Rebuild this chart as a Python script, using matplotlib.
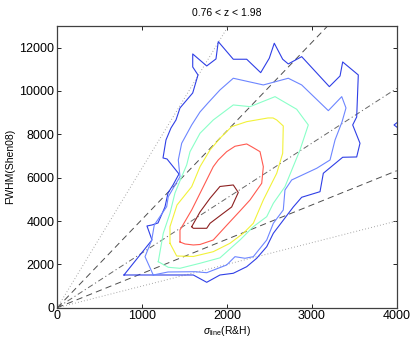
import numpy as np
import matplotlib
matplotlib.use("Agg")
import matplotlib.pyplot as plt

plt.rcParams['font.family'] = ['Liberation Sans', 'DejaVu Sans']
plt.rcParams['mathtext.fontset'] = 'custom'
plt.rcParams['mathtext.rm'] = 'Liberation Sans'
plt.rcParams['mathtext.it'] = 'Liberation Sans:italic'
plt.rcParams['lines.scale_dashes'] = False

title = "0.76 < z < 1.98"

# contour levels (outermost first)
lvl1_x = [786, 1116, 1057, 1116, 1187, 1269, 1305, 1364, 1434, 1293, 1246, 1281, 1340, 1399,
          1446, 1596, 1658, 1596, 1596, 1761, 1870, 1897, 2074, 2232, 2397, 2498, 2557, 2656,
          2722, 2880, 3206, 3332, 3363, 3547, 3538, 3528, 3481, 3567, 3528, 3363, 3135, 3096,
          2880, 2781, 2546, 2468, 2350, 2232, 2074, 1917, 1761, 1603]
lvl1_y = [1509, 3124, 3770, 3817, 3909, 4647, 5293, 5663, 6170, 6862, 6909, 7739, 8293, 8662,
          9216, 9908, 10739, 11108, 11708, 11154, 11478, 12276, 11464, 11464, 10845, 11510, 12202, 11464,
          11247, 11584, 10199, 10693, 11339, 10739, 9816, 8801, 8432, 7587, 6955, 6941, 6203, 5353,
          5095, 4647, 3434, 2815, 2280, 1892, 1588, 1509, 1172, 1509]
# small piece of the outer level at the right edge
lvl1b_x = [4060, 3968, 4060]
lvl1b_y = [8710, 8432, 8155]

lvl2_x = [1131, 1034, 1113, 1143, 1289, 1308, 1446, 1426, 1466, 1584, 1682, 1776, 1917, 2074,
          2428, 2722, 2880, 3194, 3352, 3402, 3355, 3273, 3214, 3057, 2762, 2683, 2663, 2546,
          2468, 2310, 2212, 2094, 1996, 1761, 1623, 1305]
lvl2_y = [1509, 2354, 3124, 3817, 4661, 5123, 6046, 6816, 7587, 8432, 9032, 9447, 10047, 10587,
          10278, 10587, 10278, 9092, 9738, 9216, 8570, 7739, 6816, 6433, 5893, 5432, 4509, 3895,
          3124, 2354, 2280, 2354, 1971, 1615, 1661, 1648]

lvl3_x = [1190, 1249, 1328, 1387, 1466, 1525, 1564, 1682, 1838, 2074, 2271, 2566, 2821, 2899,
          2958, 2860, 2683, 2546, 2468, 2310, 2153, 1917, 1682, 1446, 1308]
lvl3_y = [2123, 3434, 4357, 5293, 6046, 6586, 7199, 8049, 8662, 9355, 9276, 9738, 9156, 8741,
          8432, 7278, 5584, 4818, 4200, 3738, 3124, 2300, 2050, 1818, 1864]

lvl4_x = [1328, 1328, 1411, 1584, 1682, 1800, 1917, 2055, 2232, 2483, 2542, 2586, 2663, 2656,
          2586, 2428, 2310, 2192, 2035, 1838, 1603, 1407]
lvl4_y = [2972, 3738, 4740, 5584, 6507, 7278, 7818, 8353, 8584, 8755, 8755, 8662, 8385, 7125,
          6203, 4970, 3895, 3434, 2972, 2584, 2363, 2386]

lvl5_x = [1446, 1446, 1584, 1721, 1838, 1897, 1996, 2094, 2232, 2295, 2389, 2428, 2409, 2271,
          2153, 2000, 1838, 1682, 1603, 1505]
lvl5_y = [3032, 3586, 4509, 5584, 6507, 6816, 7199, 7449, 7555, 7416, 7199, 6507, 5741, 4970,
          4463, 3817, 3124, 2917, 2894, 2940]

lvl6_x = [1584, 1603, 1761, 1800, 1956, 2055, 2133, 2074, 1917, 1800, 1682]
lvl6_y = [3738, 3664, 3664, 3895, 4357, 4647, 5316, 5663, 5593, 5049, 4417]

level_colors = ['#2f3fe6', '#6d86ff', '#8affc8', '#f2f23a', '#ff5a50', '#8c2020']

# FWHM / sigma ratios of the reference lines through the origin
ratios = [1.0, 1.58, 2.53, 4.08, 6.45]
ratio_dashes = [(0.6, 1.6), (4.5, 3.0), (4.0, 2.0, 0.8, 2.0), (4.5, 3.0), (0.6, 1.6)]
ratio_colors = ['0.6', '0.3', '0.4', '0.3', '0.6']

fig = plt.figure(figsize=(4.15, 3.46), dpi=100)
ax = fig.add_axes([0.138, 0.1107, 0.818, 0.8143])

xs = np.array([0, 4000])
for r, d, c in zip(ratios, ratio_dashes, ratio_colors):
    ax.plot(xs, r * xs, dashes=d, color=c, lw=0.7)

levels = [(lvl1_x, lvl1_y), (lvl2_x, lvl2_y), (lvl3_x, lvl3_y),
          (lvl4_x, lvl4_y), (lvl5_x, lvl5_y), (lvl6_x, lvl6_y)]
for (lx, ly), c in zip(levels, level_colors):
    ax.plot(lx + lx[:1], ly + ly[:1], color=c, lw=0.8)
ax.plot(lvl1b_x, lvl1b_y, color=level_colors[0], lw=0.8)

ax.set_xlim(0, 4000)
ax.set_ylim(0, 13000)
ax.set_xticks([0, 1000, 2000, 3000, 4000])
ax.set_yticks([0, 2000, 4000, 6000, 8000, 10000, 12000])
ax.tick_params(direction='in', top=True, right=True, labelsize=9, length=3, width=0.6, pad=2)
for s in ax.spines.values():
    s.set_linewidth(0.9)
    s.set_color('0.25')

ax.set_title(title, fontsize=7.5, pad=7)
ax.set_xlabel(r"$\sigma_{\rm line}$(R&H)", fontsize=7.5, labelpad=1)
ax.set_ylabel("FWHM(Shen08)", fontsize=7.5, labelpad=3)

fig.savefig("out.png", dpi=100)
